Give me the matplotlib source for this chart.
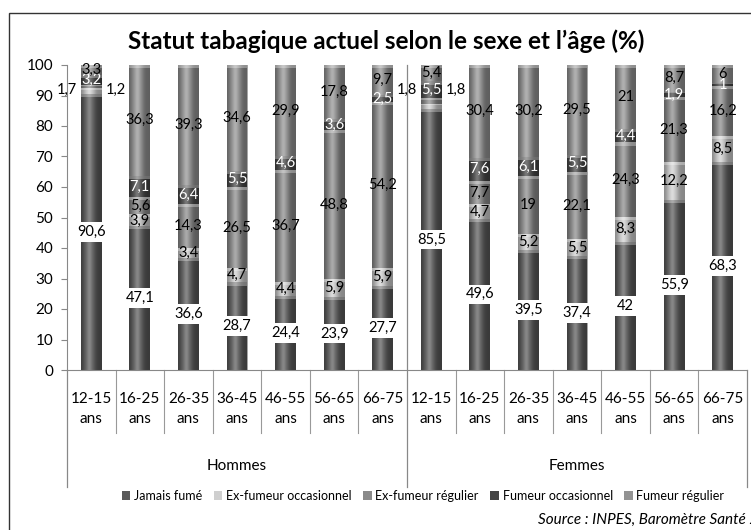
import matplotlib.pyplot as plt
import matplotlib.transforms as mtransforms
from matplotlib.patches import Patch, Rectangle
import numpy as np

plt.rcParams['font.family'] = ['Lato', 'DejaVu Sans']

AGES = ["12-15", "16-25", "26-35", "36-45", "46-55", "56-65", "66-75"]
GROUPS = ["Hommes", "Femmes"]
SERIES = ["Jamais fumé", "Ex-fumeur occasionnel", "Ex-fumeur régulier",
          "Fumeur occasionnel", "Fumeur régulier"]

# Hommes then Femmes, 7 age classes each
jamais = [90.6, 47.1, 36.6, 28.7, 24.4, 23.9, 27.7,
          85.5, 49.6, 39.5, 37.4, 42, 55.9, 68.3]
ex_occ = [1.7, 3.9, 3.4, 4.7, 4.4, 5.9, 5.9,
          1.8, 4.7, 5.2, 5.5, 8.3, 12.2, 8.5]
ex_reg = [1.2, 5.6, 14.3, 26.5, 36.7, 48.8, 54.2,
          1.8, 7.7, 19, 22.1, 24.3, 21.3, 16.2]
fum_occ = [3.2, 7.1, 6.4, 5.5, 4.6, 3.6, 2.5,
           5.5, 7.6, 6.1, 5.5, 4.4, 1.9, 1]
fum_reg = [3.3, 36.3, 39.3, 34.6, 29.9, 17.8, 9.7,
           5.4, 30.4, 30.2, 29.5, 21, 8.7, 6]

COLORS = ["#5a5a5a", "#cfcfcf", "#8a8a8a", "#454545", "#939393"]
LABEL_COLORS = ["black", "black", "black", "white", "black"]


def fmt(v):
    if float(v).is_integer():
        return str(int(v))
    return str(v).replace('.', ',')


fig = plt.figure(figsize=(7.51, 5.30), dpi=100)
ax = fig.add_axes([67 / 751, 1 - 370 / 530, 680 / 751, 305 / 530])

data = [jamais, ex_occ, ex_reg, fum_occ, fum_reg]
x = np.arange(len(jamais))
bottom = np.zeros(len(x))
containers = []
for vals, col in zip(data, COLORS):
    bars = ax.bar(x, vals, bottom=bottom, width=0.43, color=col, zorder=2)
    containers.append(bars)
    bottom += np.array(vals)

# cylinder-like shading over every segment, with a light cap on top
grad = np.linspace(0, 1, 60)
prof = np.exp(-((grad - 0.4) / 0.22) ** 2)
img = np.zeros((1, 60, 4))
img[0, :, :3] = prof[:, None]
img[0, :, 3] = 0.28 * prof + 0.35 * (1 - prof) ** 2
for bars in containers:
    for p in bars:
        bb = p.get_bbox()
        im = ax.imshow(img, extent=[bb.x0, bb.x1, bb.y0, bb.y1], aspect='auto',
                       zorder=3, interpolation='bilinear')
        im.set_clip_path(p)
        cap = min(1.0, bb.height * 0.3)
        ax.add_patch(Rectangle((bb.x0, bb.y1 - cap), bb.width, cap, fc='white',
                               ec='none', alpha=0.3, zorder=3.5))

ax.set_xlim(-0.5, 13.5)
ax.set_ylim(0, 100)

# value labels
for k, (bars, vals) in enumerate(zip(containers, data)):
    for i, (p, v) in enumerate(zip(bars, vals)):
        cx = p.get_x() + p.get_width() / 2
        cy = p.get_y() + p.get_height() / 2
        if k == 0:
            ax.text(cx, cy, fmt(v), ha='center', va='center', fontsize=10.5,
                    zorder=5, bbox=dict(fc='white', ec='none', pad=2))
        elif v < 2.5 and k in (1, 2) and i in (0, 7):
            side = -1 if k == 1 else 1
            ax.text(cx + side * 0.3, 91.7, fmt(v), ha='right' if side < 0 else 'left',
                    va='center', fontsize=10.5, zorder=5)
        else:
            ax.text(cx, cy, fmt(v), ha='center', va='center', fontsize=10.5,
                    color=LABEL_COLORS[k], zorder=5)

# axes styling
for s in ['top', 'right']:
    ax.spines[s].set_visible(False)
for s in ['left', 'bottom']:
    ax.spines[s].set_color('#888888')
ax.set_yticks(range(0, 101, 10))
ax.tick_params(axis='y', length=4, color='#888888', labelsize=11, pad=6)
ax.set_xticks([])

trans = mtransforms.blended_transform_factory(ax.transData, ax.transAxes)
for i in range(len(x)):
    ax.text(i, -0.128, AGES[i % 7] + "\nans", transform=trans, ha='center',
            va='center', fontsize=11, linespacing=1.55)
for j, g in enumerate(GROUPS):
    ax.text(3 + 7 * j, -0.315, g, transform=trans, ha='center', va='center',
            fontsize=11)
for b in np.arange(0.5, 13, 1):
    if b == 6.5:
        continue
    ax.plot([b, b], [0, -0.2066], transform=trans, color='#999999', lw=0.8,
            clip_on=False)
for b, top in [(-0.5, 0), (6.5, 1), (13.5, 0)]:
    ax.plot([b, b], [top, -0.385], transform=trans, color='#888888', lw=0.9,
            clip_on=False)

ax.set_title("Statut tabagique actuel selon le sexe et l\u2019âge (%)",
             fontsize=17.5, fontweight='bold', x=(386 - 67) / 680, y=1.025)

handles = [Patch(facecolor=c, edgecolor='none') for c in COLORS]
fig.legend(handles, SERIES, loc='center', bbox_to_anchor=(423 / 751, 1 - 496 / 530),
           ncol=5, frameon=False, fontsize=9, handlelength=0.7, handleheight=0.7,
           handletextpad=0.3, columnspacing=0.9)

fig.text(538 / 751, 1 - 520 / 530, "Source : INPES, Baromètre Santé 2005",
         style='italic', fontsize=11, ha='left', va='center')

fig.patches.append(Rectangle((9 / 751, -0.1), 1.2, 1.1 - 13 / 530, fill=False,
                             ec='#333333', lw=1, transform=fig.transFigure))

fig.savefig("out.png", dpi=100)
